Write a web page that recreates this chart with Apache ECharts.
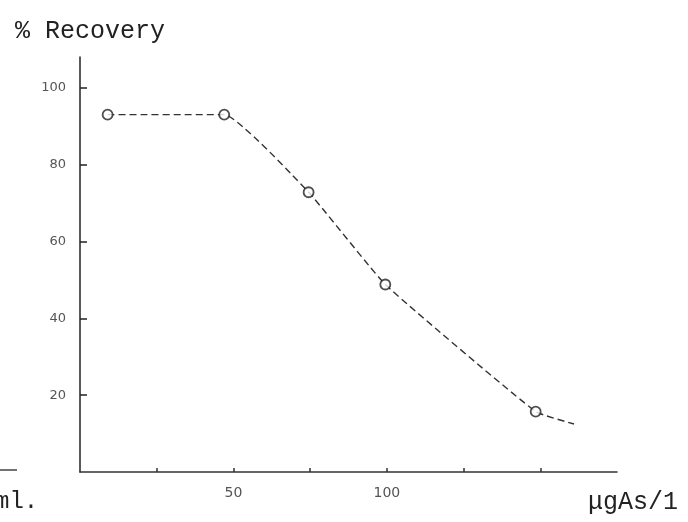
<!DOCTYPE html>
<html><head><meta charset="utf-8">
<script src="https://cdn.jsdelivr.net/npm/echarts@6/dist/echarts.min.js"></script>
<style>html,body{margin:0;padding:0;background:#fff}#c{width:688px;height:522px}</style>
</head><body><div id="c"></div>
<script>
// Data
const concentration = [9, 47, 74.5, 99.5, 148.5];      // µg As / l
const recovery      = [93, 93, 72.8, 48.8, 15.7];      // % recovery
const curveTailX = 161;                                // dashed curve continues past last point
const curveTailY = 12.5;
const xTickValues  = [25, 50, 75, 100, 125, 150];
const xLabelValues = [50, 100];
const yTickValues  = [20, 40, 60, 80, 100];

const pts = concentration.map((x, i) => [x, recovery[i]]);
const curve = pts.concat([[curveTailX, curveTailY]]);

const chart = echarts.init(document.getElementById('c'));
chart.setOption({
  backgroundColor: '#fff',
  animation: false,
  title: {
    text: '% Recovery', left: 10, top: 14,
    textStyle: { fontFamily: 'Liberation Mono', fontSize: 25, fontWeight: 'normal', color: '#222' }
  },
  grid: { left: 80, right: 71, top: 57, bottom: 50 },
  xAxis: {
    type: 'value', min: 0, max: 175, interval: 25,
    splitLine: { show: false },
    axisLine: { lineStyle: { color: '#333', width: 1.5 } },
    axisTick: { inside: true, length: 4, customValues: xTickValues, lineStyle: { color: '#333', width: 1.5 } },
    axisLabel: { customValues: xLabelValues, margin: 14, color: '#555', fontSize: 14, fontFamily: 'DejaVu Sans' }
  },
  yAxis: {
    type: 'value', min: 0, max: 108, interval: 20,
    splitLine: { show: false },
    axisLine: { show: true, lineStyle: { color: '#222', width: 1.5 } },
    axisTick: { show: true, inside: true, length: 7, customValues: yTickValues, lineStyle: { color: '#222', width: 1.5 } },
    axisLabel: { customValues: yTickValues, margin: 14, color: '#555', fontSize: 13, fontFamily: 'DejaVu Sans' }
  },
  graphic: [
    { type: 'text', left: -5, top: 490, style: { text: 'ml.', font: '24px "Liberation Mono"', fill: '#222' } },
    { type: 'text', left: 588, top: 490, style: { text: 'μgAs/1', font: '25px "Liberation Mono"', fill: '#222' } },
    { type: 'line', shape: { x1: 0, y1: 470, x2: 17, y2: 470 }, style: { stroke: '#444', lineWidth: 1.5 } }
  ],
  series: [
    {
      type: 'line', data: curve, smooth: 0.12, showSymbol: false,
      lineStyle: { color: '#333', width: 1.4, type: [7, 4] }, z: 1
    },
    {
      type: 'scatter', data: pts, symbol: 'circle', symbolSize: 10,
      itemStyle: { color: '#fff', borderColor: '#222', borderWidth: 1.8 }, z: 3
    }
  ]
});
</script>
</body></html>
